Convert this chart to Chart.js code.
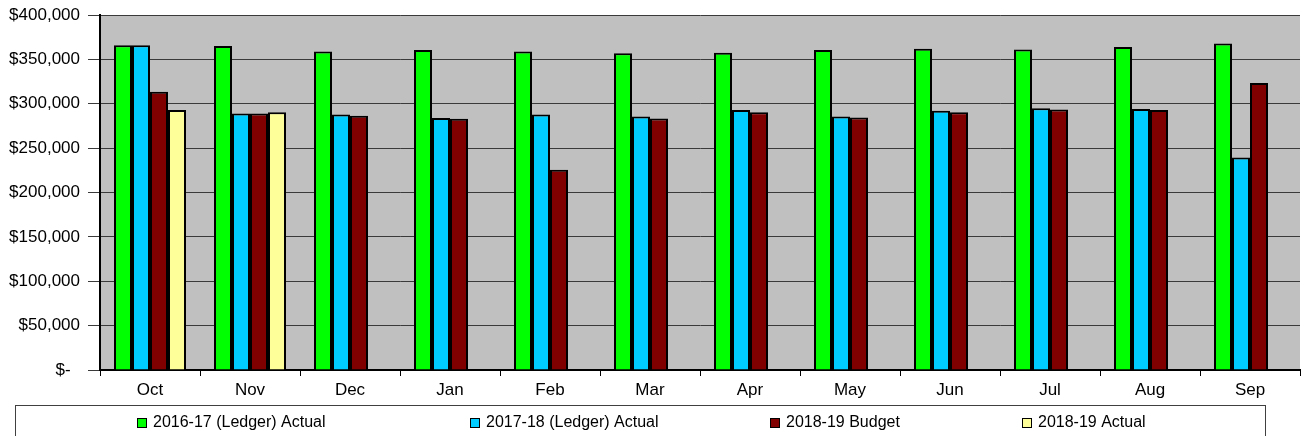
<!DOCTYPE html>
<html>
<head>
<meta charset="utf-8">
<script src="https://cdn.jsdelivr.net/npm/chart.js@4/dist/chart.umd.min.js"></script>
<style>
  html, body { margin: 0; padding: 0; background: #fff; }
  #wrap { width: 1302px; height: 436px; position: relative; }
</style>
</head>
<body>
<div id="wrap"><canvas id="myChart" width="1302" height="436"></canvas></div>
<script>
// months of the fiscal year
var months = ["Oct", "Nov", "Dec", "Jan", "Feb", "Mar", "Apr", "May", "Jun", "Jul", "Aug", "Sep"];

var actual1617 = [366000, 365000, 359000, 360500, 359000, 357000, 357500, 360500, 362000, 361000, 364000, 368000];
var actual1718 = [366000, 289000, 288000, 284000, 288000, 285500, 293000, 285500, 292000, 295000, 294000, 239500];
var budget1819 = [313500, 289000, 286500, 283000, 225500, 283500, 290500, 284500, 290500, 293500, 293000, 323500];
var actual1819 = [293000, 290500, null, null, null, null, null, null, null, null, null, null];

var seriesNames = ["2016-17 (Ledger) Actual", "2017-18 (Ledger) Actual", "2018-19 Budget", "2018-19 Actual"];
var barColors = ["#00ff00", "#00ccff", "#800000", "#ffff99"];
var legendX = [137, 470, 770, 1022];

// grey plot background
var plotBg = {
    id: 'plotBg',
    beforeDraw: function (chart) {
        var a = chart.chartArea, ctx = chart.ctx;
        ctx.save();
        ctx.fillStyle = '#c0c0c0';
        ctx.fillRect(a.left, a.top, a.right - a.left, a.bottom - a.top);
        ctx.restore();
    }
};

// boxed legend at the bottom, like the spreadsheet one
var boxLegend = {
    id: 'boxLegend',
    afterDraw: function (chart) {
        var ctx = chart.ctx;
        ctx.save();
        ctx.strokeStyle = '#404040';
        ctx.lineWidth = 1;
        ctx.strokeRect(15.5, 405.5, 1250, 40);
        ctx.font = '16px "Liberation Sans", Arial, sans-serif';
        ctx.textBaseline = 'middle';
        ctx.fillStyle = '#000';
        chart.data.datasets.forEach(function (ds, i) {
            var x = legendX[i];
            ctx.fillStyle = ds.backgroundColor;
            ctx.fillRect(x, 418, 10, 10);
            ctx.strokeStyle = '#000';
            ctx.strokeRect(x + 0.5, 418.5, 9, 9);
            ctx.fillStyle = '#000';
            ctx.fillText(ds.label, x + 16, 423);
        });
        ctx.restore();
    }
};

var datasets = [actual1617, actual1718, budget1819, actual1819].map(function (vals, i) {
    return {
        label: seriesNames[i],
        data: vals,
        backgroundColor: barColors[i],
        borderColor: "#000",
        borderWidth: 2,
        borderSkipped: 'bottom',
        categoryPercentage: 0.72,
        barPercentage: 1.0
    };
});

new Chart("myChart", {
    type: "bar",
    data: {
        labels: months,
        datasets: datasets
    },
    plugins: [plotBg, boxLegend],
    options: {
        responsive: false,
        animation: false,
        layout: { padding: { top: 15, right: 2, bottom: 36, left: 0 } },
        plugins: {
            legend: { display: false },
            tooltip: { enabled: false }
        },
        scales: {
            x: {
                offset: true,
                grid: {
                    offset: true,
                    drawOnChartArea: false,
                    drawTicks: true,
                    tickLength: 6,
                    color: '#000'
                },
                border: { color: '#000', width: 2 },
                ticks: {
                    color: '#000',
                    padding: 4,
                    font: { family: '"Liberation Sans", Arial, sans-serif', size: 17 }
                },
                afterFit: function (scale) { scale.height = 30; }
            },
            y: {
                min: 0,
                max: 400000,
                grid: {
                    color: '#3a3a3a',
                    lineWidth: 1,
                    tickLength: 12
                },
                border: { color: '#000', width: 2 },
                ticks: {
                    stepSize: 50000,
                    color: '#000',
                    padding: 8,
                    font: { family: '"Liberation Sans", Arial, sans-serif', size: 17, lineHeight: 1 },
                    callback: function (v) {
                        if (v === 0) return '$-  ';
                        return '$' + v.toLocaleString('en-US');
                    }
                },
                afterFit: function (scale) {
                    scale.width = 100;
                    scale.paddingTop = 0;
                    scale.paddingBottom = 0;
                }
            }
        }
    }
});
</script>
</body>
</html>
